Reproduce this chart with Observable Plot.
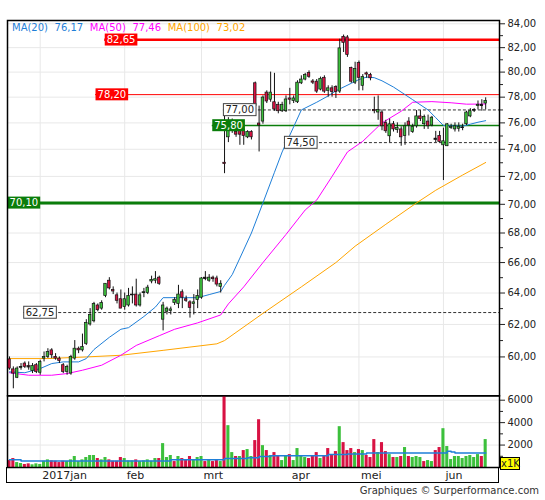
<!DOCTYPE html>
<html><head><meta charset="utf-8">
<script src="https://cdn.jsdelivr.net/npm/d3@7"></script>
<script src="https://cdn.jsdelivr.net/npm/@observablehq/plot@0.6"></script>
<style>
body{margin:0;background:#fff;}
#wrap{position:relative;width:545px;height:500px;font-family:"DejaVu Sans",sans-serif;color:#222;overflow:hidden;}
#wrap svg{position:absolute;left:0;}
#legend{position:absolute;left:12px;top:21px;font-size:10px;line-height:14px;white-space:nowrap;}
#legend span{margin-right:6.6px;}
#caption{position:absolute;right:6px;top:485px;font-size:10px;line-height:12px;color:#333;}
#x1k{position:absolute;left:500px;top:457px;width:18px;height:11px;background:#ffff00;border:1px solid #000;font-size:10px;line-height:11px;text-align:center;}
#daterow{position:absolute;left:6.25px;top:467px;width:492.5px;height:15.5px;box-sizing:border-box;border:1.5px solid #000;border-top:none;}
</style>
</head><body>
<div id="wrap">
  <div id="daterow"></div>
</div>
<script>
// ---------- data ----------
const open  = [59.85,59.25,58.75,59.35,59.6,59.45,59.15,59.5,59.05,59.9,
 60.0,60.4,60.0,59.9,59.5,59.1,59.0,59.9,60.5,60.4,
 60.8,62.0,62.2,63.2,63.0,63.8,64.8,64.2,63.85,63.6,
 63.1,63.2,63.85,63.9,63.2,64.0,64.0,64.75,64.8,65.0,
 62.3,62.8,62.85,63.35,63.3,64.05,63.6,63.4,63.3,63.55,
 63.7,65.0,64.8,65.0,64.95,64.4,73.0,74.9,75.5,75.3,
 75.7,75.5,74.9,75.3,79.1,75.95,76.1,78.36,77.8,77.6,
 77.4,76.9,76.9,77.9,77.7,77.6,79.1,79.4,79.93,79.25,
 79.23,78.6,79.54,78.5,78.7,78.8,78.44,82.9,82.85,80.33,
 79.15,80.73,78.9,79.9,79.77,77.0,76.8,76.8,76.0,74.98,
 75.9,75.45,75.5,75.0,76.1,75.3,75.74,76.5,75.9,76.1,
 75.8,74.8,75.0,74.3,74.23,75.6,75.5,75.55,75.6,75.9,
 76.5,76.95,77.3,77.4,77.5];
const high  = [60.0,59.4,59.4,59.6,59.7,59.7,59.6,59.6,59.8,60.3,
 60.5,60.5,60.2,60.0,59.6,59.5,60.1,61.0,60.6,61.4,
 62.3,63.0,63.4,63.3,63.5,64.6,65.0,64.4,64.0,64.2,
 64.0,64.3,64.4,64.9,64.0,64.3,64.5,65.1,65.4,65.1,
 63.4,63.1,63.1,63.7,64.5,64.2,63.8,63.5,63.9,64.2,
 65.0,65.4,65.2,65.1,65.1,64.8,76.5,76.4,76.3,75.6,
 76.0,75.9,75.4,75.4,79.2,77.3,78.1,78.5,80.0,79.9,
 77.6,77.6,78.1,78.7,78.1,79.3,79.7,79.9,80.1,79.4,
 79.4,79.6,79.7,78.9,78.9,78.9,82.7,83.05,83.0,80.4,
 80.8,80.9,79.8,80.0,79.9,78.0,78.1,77.0,76.2,76.3,
 76.1,76.0,75.7,76.0,76.4,75.9,76.95,76.95,76.6,76.6,
 76.5,75.35,75.35,75.6,75.95,75.9,76.0,76.0,75.9,76.9,
 77.1,77.1,77.7,77.8,77.95];
const low   = [59.2,58.1,58.7,59.2,59.3,59.2,59.0,59.0,58.9,59.7,
 59.9,59.9,59.8,59.6,59.0,58.9,58.9,59.8,60.2,60.3,
 60.7,61.9,62.1,62.8,62.9,63.7,64.2,63.9,63.3,63.0,
 62.9,63.1,63.3,63.1,63.1,63.7,63.9,64.6,64.6,64.5,
 61.6,62.6,62.6,63.2,63.0,63.0,63.4,62.4,62.6,63.0,
 63.6,64.8,64.7,64.7,64.4,64.0,72.2,74.5,75.2,74.9,
 74.3,74.3,74.8,74.7,77.0,73.8,75.9,77.5,77.6,76.9,
 76.7,76.8,76.8,77.4,77.5,77.5,79.0,79.3,79.5,79.0,
 78.3,78.5,78.3,78.0,78.0,77.9,78.3,81.6,81.2,79.1,
 79.0,78.5,78.5,79.5,79.3,76.7,76.2,75.4,75.2,74.5,
 75.3,75.2,74.23,74.3,75.0,75.2,75.6,76.1,75.5,75.5,
 75.7,74.5,74.5,71.7,74.2,75.5,75.3,75.3,75.4,75.8,
 76.4,76.8,77.0,76.9,77.0];
const close = [59.3,59.0,59.3,59.4,59.4,59.4,59.45,59.1,59.7,60.0,
 60.3,60.1,59.9,59.75,59.1,59.4,60.0,60.5,60.4,60.6,
 62.1,62.6,63.3,62.9,63.35,64.6,64.3,64.1,63.5,63.0,
 63.6,63.8,63.9,63.2,63.85,64.05,64.35,64.85,64.9,64.6,
 63.2,63.0,62.95,63.55,63.9,63.7,63.5,63.05,63.4,63.8,
 64.95,64.95,65.0,64.9,64.55,64.6,72.9,75.6,75.7,75.1,
 75.1,75.0,75.3,74.9,77.3,75.8,77.97,77.66,78.36,77.04,
 76.9,77.4,77.82,77.8,77.9,79.15,79.4,79.77,79.62,79.15,
 78.44,79.46,78.44,78.7,78.4,78.4,81.94,82.4,81.4,79.23,
 80.25,79.54,79.6,79.8,79.5,76.9,77.0,75.74,75.36,75.89,
 75.5,75.6,74.9,75.74,75.8,75.7,76.5,76.3,76.45,75.74,
 76.4,74.75,74.55,74.6,75.89,75.7,75.74,75.7,75.65,76.8,
 76.9,77.0,77.4,77.35,77.7];
// volume in thousands of shares
const volume = [620,800,440,355,270,325,240,325,270,560,
 680,590,560,440,560,530,680,980,530,680,
 890,1070,1070,800,680,890,680,560,560,890,
 800,590,590,680,530,590,680,560,800,800,
 2130,890,1070,530,980,800,680,980,680,890,
 980,530,680,530,620,530,6400,3730,1330,980,
 980,1510,1600,980,2400,4260,1950,1510,1070,1330,
 1040,620,1070,1150,620,1690,980,890,800,1070,
 1330,800,980,1690,1070,1420,3640,2220,1510,1690,
 1330,1600,1510,1070,890,2490,1330,2220,1420,1150,
 890,890,980,1780,980,890,980,890,530,620,
 530,1510,1780,3460,1870,710,980,980,800,980,
 1070,890,1150,980,2490];
const volDir = ("RRGGRRGGGG"+"GRRRRGGGGG"+"GGGRGGRRRR"+"GGGRGGGGGR"+"GGGRGRRRGG"+
 "GRGRRGRGGR"+"GRGGRRGRGR"+"RGGRGGGGRR"+"RGRRRRGRRR"+"GRGRRRGRRG"+
 "RGRGRGGGRG"+"GRRGGGGGGG"+"GGGRG").split("");
// moving averages: [candle index, value]
const ma20 = [[0,59.1],[4,59.05],[8,59.3],[11,59.6],[14,59.7],[18,59.7],[20,59.9],[22,60.45],[26,61.2],[29,61.7],[31,61.8],[35,62.5],[38,63.1],[40,63.7],[44,63.7],[49,63.7],[52,63.9],[55,64.1],[56,64.5],[58,65.2],[60,66.3],[63,68.0],[66,70.1],[69,72.3],[71,73.8],[74,75.7],[76,77.0],[80,77.6],[83,78.1],[85,78.5],[89,79.1],[91,79.4],[93,79.6],[95,79.55],[97,79.3],[100,78.8],[103,78.2],[105,77.8],[109,77.0],[111,76.4],[113,75.8],[118,75.75],[120,75.9],[122,76.05],[124,76.17]];
const ma50 = [[0,59.05],[5,58.9],[11,58.9],[15,59.0],[19,59.2],[24,59.5],[29,60.1],[33,60.7],[39,61.3],[43,61.7],[49,62.1],[55,62.6],[57,63.3],[61,64.4],[66,66.0],[72,67.9],[77,69.6],[80,70.3],[84,72.0],[88,73.8],[92,74.6],[97,76.0],[102,76.9],[105,77.6],[110,77.65],[115,77.56],[119,77.45],[124,77.46]];
const ma100 = [[0,59.9],[10,59.9],[20,60.0],[29,60.1],[40,60.4],[47,60.6],[54,60.8],[56,61.0],[66,62.7],[76,64.4],[85,66.0],[90,67.1],[98,68.6],[106,70.1],[111,71.0],[118,72.1],[124,73.02]];
const volMA = [[0,680],[3,590],[42,680],[56,800],[62,860],[65,980],[68,1040],[83,1150],[88,1210],[93,1300],[114,1450],[115,1390],[116,1300],[124,1300]];
const maNames = ["MA(20)","MA(50)","MA(100)"];
const maLast  = ["76,17","77,46","73,02"];
const levels    = [82.65, 78.20, 77.00, 75.80, 74.50, 70.10, 62.75];
const levelText = ["82,65","78,20","77,00","75,80","74,50","70,10","62,75"];
const levelKind = ["res","res","pivot","sup","pivot","sup","pivot"];
const priceTicks = [60,62,64,66,68,70,72,74,76,78,80,82,84];
const priceMinor = [61,63,65,67,69,71,73,75,77,79,81,83];
const volTicks = [2000,4000,6000];
const volMinor = [1000,3000,5000];
const monthIdx = [8,30,50,73,91,113];
const monthLabels = ["2017jan","feb","mrt","apr","mei","jun"];

// ---------- layout & style ----------
const GREEN = "#3cc03c", RED = "#d81243";
const maColors = ["#1f7fd8","#ff00ff","#ffa500"];
const xDomain = [-0.52, 127.6];
const tagAt = [24.8, 22.4, 55.7, 52.8, 71.6, -0.5, 3.7];     // where each level tag sits
const levelStroke = {res:"#ff0000", sup:"#0a7d0a", pivot:"#333"};
const levelWidth = [2.5, 1, 1, 1.6, 1, 3, 1];
const tagFill = {res:"#ff0000", sup:"#0a7d0a", pivot:"#ffffff"};
const tagTextFill = {res:"#ffffff", sup:"#ffffff", pivot:"#222"};
const grid = "#e8e8e8";
const fmt2 = d => d.toFixed(2).replace(".", ",");

const N = open.length;
const idx = d3.range(N);
const candles = idx.map(i => ({i, o: open[i], h: high[i], l: low[i], c: close[i]}));
const dojis = candles.filter(d => Math.abs(d.c - d.o) < 0.06);
const levIdx = d3.range(levels.length);
const solidLev = levIdx.filter(k => levelKind[k] !== "pivot");
const dashLev = levIdx.filter(k => levelKind[k] === "pivot");

const baseStyle = {background:"transparent", fontFamily:"DejaVu Sans", fontSize:"10px", color:"#222", overflow:"visible"};

const price = Plot.plot({
  width: 545, height: 396,
  marginLeft: 7, marginRight: 46, marginTop: 20, marginBottom: 0.7,
  style: baseStyle,
  x: {domain: xDomain, axis: null},
  y: {type: "log", domain: [57.69, 84.28], axis: null},
  marks: [
    Plot.ruleY(priceTicks, {stroke: grid}),
    Plot.ruleX(monthIdx, {stroke: grid}),
    Plot.ruleY(solidLev, {y: k => levels[k], x1: k => tagAt[k], x2: () => xDomain[1],
      stroke: k => levelStroke[levelKind[k]], strokeWidth: k => levelWidth[k]}),
    Plot.ruleY(dashLev, {y: k => levels[k], x1: k => tagAt[k], x2: () => xDomain[1],
      stroke: "#333", strokeWidth: 1, strokeDasharray: "3,2"}),
    Plot.line(ma100, {x: d => d[0], y: d => d[1], stroke: maColors[2], strokeWidth: 1}),
    Plot.line(ma50, {x: d => d[0], y: d => d[1], stroke: maColors[1], strokeWidth: 1}),
    Plot.line(ma20, {x: d => d[0], y: d => d[1], stroke: maColors[0], strokeWidth: 1}),
    Plot.ruleX(candles, {x: "i", y1: "l", y2: "h", stroke: "#111", strokeWidth: 1}),
    Plot.rect(candles, {x1: d => d.i - 0.33, x2: d => d.i + 0.33, y1: "o", y2: "c",
      fill: d => d.c >= d.o ? GREEN : RED, stroke: "#111", strokeWidth: 0.7}),
    Plot.ruleY(dojis, {y: "c", x1: d => d.i - 0.42, x2: d => d.i + 0.42, stroke: "#111", strokeWidth: 1}),
    Plot.text(levIdx, {x: k => tagAt[k], y: k => levels[k], text: k => levelText[k],
      textAnchor: "start", dx: 2, fontSize: 10, fill: k => tagTextFill[levelKind[k]], ariaLabel: () => "level tag"}),
    Plot.frame({stroke: "#000", strokeWidth: 1.5}),
    Plot.axisY({anchor: "right", ticks: priceTicks, tickFormat: () => "", tickSize: 5, label: null}),
    Plot.axisY({anchor: "right", ticks: priceMinor, tickFormat: () => "", tickSize: 3, label: null}),
    Plot.text(priceTicks, {y: d => d, text: fmt2, frameAnchor: "right", textAnchor: "start", dx: 8, fontSize: 10, fill: "#222"})
  ]
});

const vol = Plot.plot({
  width: 545, height: 89,
  marginLeft: 7, marginRight: 46, marginTop: 2.3, marginBottom: 15,
  style: baseStyle,
  x: {domain: xDomain, axis: null},
  y: {domain: [0, 6392], axis: null},
  marks: [
    Plot.ruleY(volTicks, {stroke: grid}),
    Plot.ruleX(monthIdx, {stroke: grid}),
    Plot.rect(idx, {x1: i => i - 0.4, x2: i => i + 0.4, y1: () => 0, y2: i => volume[i],
      fill: i => volDir[i] === "G" ? GREEN : RED, clip: true}),
    Plot.line(volMA, {x: d => d[0], y: d => d[1], curve: "step-after", stroke: maColors[0], strokeWidth: 1.5}),
    Plot.frame({stroke: "#000", strokeWidth: 1.5}),
    Plot.axisY({anchor: "right", ticks: volTicks, tickFormat: d3.format("d"), tickSize: 5, tickPadding: 3, fontSize: 10, label: null}),
    Plot.axisY({anchor: "right", ticks: volMinor, tickFormat: () => "", tickSize: 3, label: null}),
    Plot.axisX({anchor: "bottom", ticks: monthIdx, tickFormat: d => monthLabels[monthIdx.indexOf(d)],
      tickSize: 0, tickPadding: 3.5, textAnchor: "start", dx: 2, fontSize: 11, label: null})
  ]
});

const wrap = document.getElementById("wrap");
price.style.top = "0px";
vol.style.top = "393px";
wrap.appendChild(price);
wrap.appendChild(vol);

// legend of moving averages
const legend = document.createElement("div");
legend.id = "legend";
maNames.forEach((n, k) => {
  const a = document.createElement("span"); a.textContent = n; a.style.color = maColors[k];
  const b = document.createElement("span"); b.textContent = maLast[k]; b.style.color = maColors[k];
  legend.appendChild(a); legend.appendChild(b);
});
wrap.appendChild(legend);

const x1k = document.createElement("div"); x1k.id = "x1k"; x1k.textContent = "x1K"; wrap.appendChild(x1k);
const cap = document.createElement("div"); cap.id = "caption"; cap.textContent = "Graphiques © Surperformance.com"; wrap.appendChild(cap);

// boxes behind the level tags
let tagTexts = Array.from(price.querySelectorAll('text[aria-label="level tag"]'));
if (!tagTexts.length) {
  const gg = price.querySelector('g[aria-label="level tag"]');
  if (gg) tagTexts = Array.from(gg.querySelectorAll("text"));
}
if (!tagTexts.length) {
  tagTexts = Array.from(price.querySelectorAll("text")).filter(t => levelText.includes(t.textContent));
}
tagTexts.forEach((t) => {
  const k = levelText.indexOf(t.textContent);
  const bb = t.getBBox();
  const r = document.createElementNS("http://www.w3.org/2000/svg", "rect");
  const kind = levelKind[k];
  r.setAttribute("x", bb.x - 2);
  r.setAttribute("y", bb.y + bb.height / 2 - 6);
  r.setAttribute("width", bb.width + 4);
  r.setAttribute("height", 12);
  r.setAttribute("fill", tagFill[kind]);
  if (kind === "pivot") { r.setAttribute("stroke", "#444"); r.setAttribute("stroke-width", 1); }
  const tr = t.getAttribute("transform");
  if (tr) r.setAttribute("transform", tr);
  t.parentNode.insertBefore(r, t);
});
</script>
</body></html>
